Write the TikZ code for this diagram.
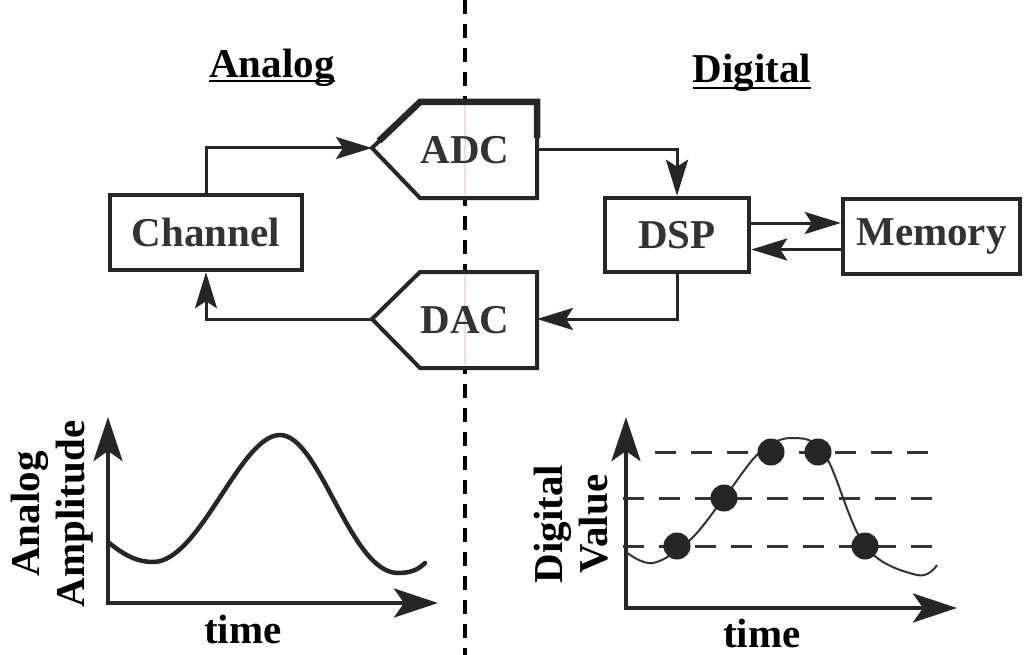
\documentclass[tikz,border=0pt]{standalone}
\usepackage{fontspec}
\setmainfont{Liberation Serif}
\usetikzlibrary{arrows.meta}
\definecolor{ink}{HTML}{262626}
\definecolor{txt}{HTML}{333333}
\definecolor{faint}{HTML}{EBDDF0}
\begin{document}
\begin{tikzpicture}[x=1pt,y=-1pt,
  lbl/.style={font=\fontsize{41}{45}\selectfont\bfseries, text=txt, inner sep=0pt},
  box/.style={lbl, draw=ink, line width=4.5pt, fill=white},
  conn/.style={draw=ink, line width=3pt, -{Stealth[length=36pt,width=22pt,inset=7pt]}},
  axis/.style={draw=ink, line width=4.5pt, line join=miter, {Stealth[length=44pt,width=29pt,inset=10pt]}-{Stealth[length=44pt,width=29pt,inset=10pt]}},
  divider/.style={draw=black, line width=3.5pt, dash pattern=on 14pt off 10pt},
  level/.style={draw=txt, line width=3pt, dash pattern=on 21pt off 15pt},
  sample/.style={circle, fill=ink, minimum size=27pt, inner sep=0pt},
  heading/.style={font=\fontsize{41}{45}\selectfont\bfseries, text=black, inner sep=0pt, anchor=base},
]
\useasboundingbox (0,0) rectangle (1024,655);
\fill[white] (0,0) rectangle (1024,655);

% divider between analog and digital
\draw[divider] (465,0) -- (465,655);

% ADC
\coordinate (adcTip) at (372,148);
\coordinate (adcE) at (537,150);
\draw[ink, line width=4pt, fill=white, line join=miter] (adcTip) -- (420,102) -- (537,102) -- (537,198) -- (420,198) -- cycle;
\draw[faint, line width=1.5pt] (465,105) -- (465,195);
\draw[ink, line width=6.5pt] (379,141) -- (420,102) -- (537,102) -- (537,138);
\node[lbl] (adc) at (465,150) {ADC};

% DAC
\coordinate (dacTip) at (372,319);
\coordinate (dacE) at (537,319);
\draw[ink, line width=4pt, fill=white, line join=miter] (dacTip) -- (420,272) -- (537,272) -- (537,368) -- (420,368) -- cycle;
\draw[faint, line width=1.5pt] (465,275) -- (465,365);
\node[lbl] (dac) at (465,320) {DAC};

% boxes
\node[box, minimum width=192pt, minimum height=75pt] (chan) at (206,232.5) {Channel};
\node[box, minimum width=144pt, minimum height=74pt] (dsp) at (677,235) {DSP};
\node[box, minimum width=177pt, minimum height=75pt] (mem) at (931.5,236.5) {Memory};

% connectors
\draw[conn] (chan.north) |- (adcTip);
\draw[conn] (adcE) -| (dsp.north);
\draw[conn] (dsp.south) |- (dacE);
\draw[conn] (dacTip) -| (chan.south);
\coordinate (dm) at ([yshift=12pt]dsp.east);
\draw[conn] (dm) -- (dm -| mem.west);
\coordinate (md) at ([yshift=-13pt]mem.west);
\draw[conn] (md) -- (md -| dsp.east);

% headings
\node[heading] (ana) at (272,78) {Analog};
\draw[black, line width=2.8pt] ([yshift=-3pt]ana.base west) -- ([yshift=-3pt]ana.base east);
\node[heading] (dig) at (752,83) {Digital};
\draw[black, line width=2.8pt] ([yshift=-5pt]dig.base west) -- ([yshift=-5pt]dig.base east);

% analog plot
\coordinate (o1) at (108,603);
\coordinate (y1) at (108,417);
\coordinate (x1) at (438,603);
\draw[axis] (y1) -- (o1) -- (x1);
\draw[ink, line width=4.5pt, line cap=round]
  (108,542) .. controls (125,556) and (138,562) .. (153,562)
  .. controls (200,562) and (240,435) .. (280,435)
  .. controls (320,435) and (350,573) .. (398,573)
  .. controls (410,573) and (418,570) .. (425,563);
\node[lbl, text=black, rotate=90, align=center] (ylab1) at (52,514) {Analog\\Amplitude};
\node[heading] (t1) at (243,643) {time};

% digital plot
\coordinate (o2) at (626,608);
\coordinate (y2) at (626,417);
\coordinate (x2) at (957,608);
\draw[axis] (y2) -- (o2) -- (x2);
\draw[txt, line width=2pt] plot[smooth, tension=0.6] coordinates
  {(626,552) (653,563) (690,540) (724,498) (760,452) (793,438) (825,455) (865,546) (917,575) (937,565)};
\draw[level] (655,452) -- (940,452);
\draw[level] (623,498) -- (940,498);
\draw[level] (623,546) -- (940,546);
\node[sample] (s1) at (677,546) {};
\node[sample] (s2) at (724,498) {};
\node[sample] (s3) at (771,452) {};
\node[sample] (s4) at (818,452) {};
\node[sample] (s5) at (865,546) {};
\node[lbl, text=black, rotate=90, align=center] (ylab2) at (571,524) {Digital\\Value};
\node[heading] (t2) at (762,647) {time};
\end{tikzpicture}
\end{document}
